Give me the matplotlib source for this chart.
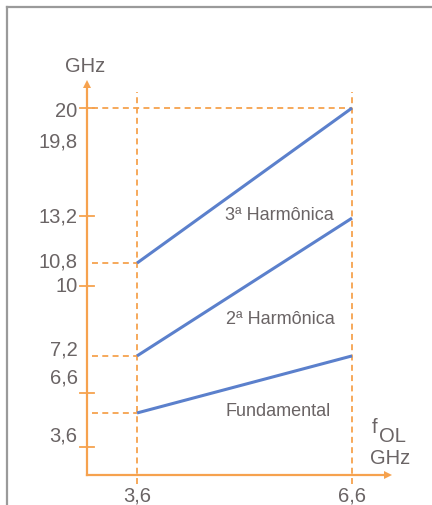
import numpy as np
import matplotlib.pyplot as plt
from matplotlib.lines import Line2D

plt.rcParams['font.family'] = ['Liberation Sans', 'DejaVu Sans']

# frequência do oscilador local (GHz)
f_ol = [3.6, 6.6]

# altura de cada reta no esquema (eixo vertical sem escala, topo = 20)
fundamental = [3.38, 6.49]
harm_2 = [6.49, 14.0]
harm_3 = [11.55, 20.0]

# marcas do eixo vertical
y_ticks = [20.0, 14.11, 10.30, 4.47, 1.53]
# rótulos do eixo vertical e altura em que aparecem
y_labels = ['20', '19,8', '13,2', '10,8', '10', '7,2', '6,6', '3,6']
y_label_pos = [19.84, 18.2, 14.11, 11.66, 10.30, 6.87, 5.34, 2.18]
x_labels = ['3,6', '6,6']

laranja = '#f6a24e'
azul = '#5b80cc'
cinza = '#6a6465'

fig = plt.figure(figsize=(4.32, 5.06), dpi=100)
ax = fig.add_axes([0, 0, 1, 1])
ax.set_xlim(1.688, 7.716)
ax.set_ylim(-1.635, 25.94)
ax.axis('off')

# moldura cinza (só topo e lado esquerdo)
fig.add_artist(Line2D([7 / 432, 1], [1 - 8 / 506, 1 - 8 / 506], transform=fig.transFigure,
                      color='#9a9a9a', lw=1.6))
fig.add_artist(Line2D([7 / 432, 7 / 432], [0, 1 - 8 / 506], transform=fig.transFigure,
                      color='#9a9a9a', lw=1.6))

x0 = 2.902   # posição do eixo vertical
x_end = 7.15
y_top = 21.45

# eixos com setas
ax.plot([x0, x0], [0, y_top - 0.3], color=laranja, lw=1.6)
ax.plot([x0, x_end - 0.08], [0, 0], color=laranja, lw=1.6)
ax.plot([x0], [y_top - 0.15], marker='^', color=laranja, ms=6, mew=0)
ax.plot([x_end - 0.05], [0], marker='>', color=laranja, ms=6, mew=0)

# marcas curtas no eixo vertical
for y in y_ticks:
    ax.plot([x0 - 0.1, x0 + 0.1], [y, y], color=laranja, lw=1.3)

dash = dict(color=laranja, lw=1.3, dashes=(3.3, 2.4))

# guias verticais tracejadas
for x in f_ol:
    ax.plot([x, x], [-0.5, y_top - 0.6], **dash)

# guias horizontais até o início das retas
for y in [fundamental[0], harm_2[0], harm_3[0]]:
    ax.plot([x0 + 0.07, f_ol[0]], [y, y], **dash)
ax.plot([x0 + 0.07, f_ol[1]], [harm_3[1], harm_3[1]], **dash)

# retas das harmônicas
for serie in [fundamental, harm_2, harm_3]:
    ax.plot(f_ol, serie, color=azul, lw=2.2, solid_capstyle='butt')

# rótulos do eixo vertical
for txt, y in zip(y_labels, y_label_pos):
    ax.text(2.77, y, txt, ha='right', va='center', fontsize=14.5, color=cinza)

for txt, x in zip(x_labels, f_ol):
    ax.text(x, -1.1, txt, ha='center', va='center', fontsize=14.5, color=cinza)

ax.text(x0 - 0.03, 22.3, 'GHz', ha='center', va='center', fontsize=14.5, color=cinza)
ax.text(6.92, 2.65, 'f', ha='center', va='center', fontsize=14.5, color=cinza)
ax.text(7.17, 2.15, 'OL', ha='center', va='center', fontsize=14.5, color=cinza)
ax.text(7.13, 0.98, 'GHz', ha='center', va='center', fontsize=14.5, color=cinza)

# nomes das retas
ax.text(5.58, 14.2, '3ª Harmônica', ha='center', va='center', fontsize=13, color=cinza)
ax.text(5.6, 8.55, '2ª Harmônica', ha='center', va='center', fontsize=13, color=cinza)
ax.text(5.57, 3.5, 'Fundamental', ha='center', va='center', fontsize=13, color=cinza)

fig.savefig('out.png', dpi=100, facecolor='white')
